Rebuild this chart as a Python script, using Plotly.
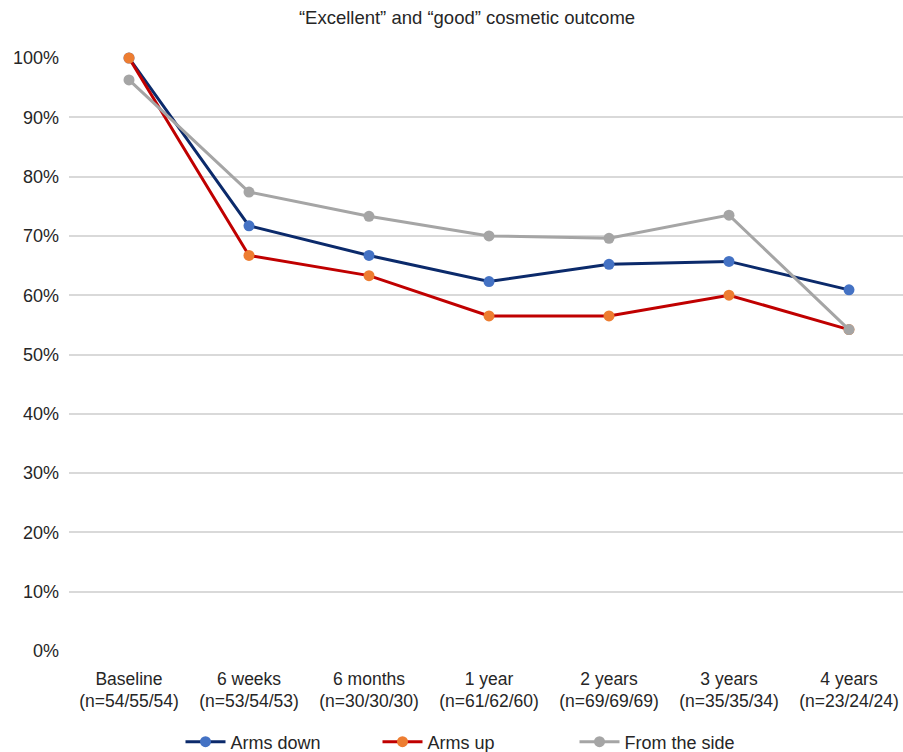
import plotly.graph_objects as go

# Time points (with group sizes: arms down / arms up / from the side)
categories = [
    "Baseline<br>(n=54/55/54)",
    "6 weeks<br>(n=53/54/53)",
    "6 months<br>(n=30/30/30)",
    "1 year<br>(n=61/62/60)",
    "2 years<br>(n=69/69/69)",
    "3 years<br>(n=35/35/34)",
    "4 years<br>(n=23/24/24)",
]

# Share of "excellent" and "good" ratings, in percent
arms_down = [100.0, 71.7, 66.7, 62.3, 65.2, 65.7, 60.9]
arms_up = [100.0, 66.7, 63.3, 56.5, 56.5, 60.0, 54.2]
from_side = [96.3, 77.4, 73.3, 70.0, 69.6, 73.5, 54.2]

y_ticks = [0, 10, 20, 30, 40, 50, 60, 70, 80, 90, 100]
y_tick_text = [f"{v}%" for v in y_ticks]

FONT = "Liberation Sans, Arial, Helvetica, sans-serif"
TEXT = "#262626"

series = [
    ("Arms down", arms_down, "#0B2A6B", "#4472C4"),
    ("Arms up", arms_up, "#C00000", "#ED7D31"),
    ("From the side", from_side, "#A5A5A5", "#A5A5A5"),
]

fig = go.Figure()
for name, values, line_color, marker_color in series:
    fig.add_trace(go.Scatter(
        x=categories,
        y=values,
        name=name,
        mode="lines+markers",
        line=dict(color=line_color, width=3),
        marker=dict(color=marker_color, size=11),
        cliponaxis=False,
    ))

fig.update_layout(
    width=903,
    height=752,
    margin=dict(l=69, r=0, t=58, b=101, autoexpand=False),
    paper_bgcolor="white",
    plot_bgcolor="white",
    font=dict(family=FONT, size=16, color=TEXT),
    title=dict(
        text="“Excellent” and “good” cosmetic outcome",
        x=467 / 903,
        xanchor="center",
        xref="container",
        y=1 - 18 / 752,
        yanchor="middle",
        yref="container",
        font=dict(family=FONT, size=18.5, color=TEXT),
    ),
    showlegend=True,
    legend=dict(
        orientation="h",
        x=(476 - 69) / 834,
        xref="paper",
        xanchor="center",
        y=(651 - 742) / 593,
        yref="paper",
        yanchor="middle",
        font=dict(family=FONT, size=18, color=TEXT),
        traceorder="normal",
        itemwidth=40,
        entrywidth=142,
    ),
    xaxis=dict(
        type="category",
        range=[-0.5, 6.45],
        showgrid=False,
        showline=False,
        ticks="",
        tickangle=0,
        automargin=False,
        ticklabelstandoff=15,
        tickfont=dict(family=FONT, size=17.5, color=TEXT),
        fixedrange=True,
    ),
    yaxis=dict(
        range=[0, 100],
        tickvals=y_ticks,
        ticktext=y_tick_text,
        showgrid=True,
        gridcolor="#D9D9D9",
        gridwidth=1.5,
        zeroline=False,
        showline=False,
        ticks="",
        automargin=False,
        ticklabelstandoff=9,
        tickfont=dict(family=FONT, size=18, color=TEXT),
        fixedrange=True,
    ),
)

fig.write_html("out.html")
